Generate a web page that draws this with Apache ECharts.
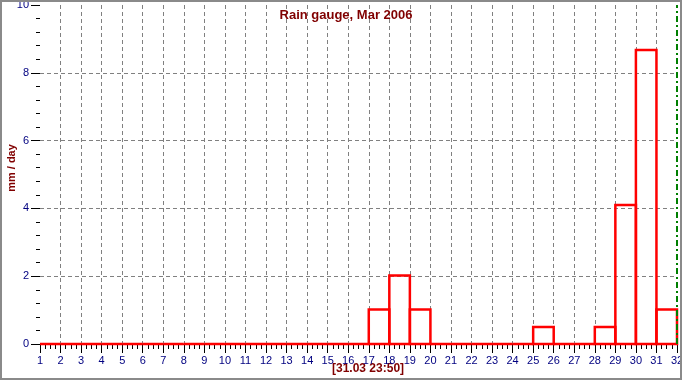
<!DOCTYPE html>
<html><head><meta charset="utf-8">
<script src="https://cdn.jsdelivr.net/npm/echarts@6/dist/echarts.min.js"></script>
<style>html,body{margin:0;padding:0;background:#fff}#c{width:682px;height:380px}</style>
</head><body><div id="c"></div>
<script>
var days = [1,2,3,4,5,6,7,8,9,10,11,12,13,14,15,16,17,18,19,20,21,22,23,24,25,26,27,28,29,30,31];
var rain = [0,0,0,0,0,0,0,0,0,0,0,0,0,0,0,0,1.02,2.02,1.02,0,0,0,0,0,0.5,0,0,0.5,4.1,8.67,1.02];
var titleText = 'Rain gauge, Mar 2006';
var yName = 'mm / day';
var stampText = '[31.03 23:50]';
var nowMarker = 32;

var chart = echarts.init(document.getElementById('c'), null, {renderer:'canvas'});
var font = 'Liberation Sans, Arial, sans-serif';
var data = days.map(function(d,i){return [d, rain[i]];});
chart.setOption({
  animation:false,
  backgroundColor:'#fff',
  title:{text:titleText,left:341,textAlign:'center',top:4,textStyle:{color:'#800000',fontSize:13,fontWeight:'bold',fontFamily:font}},
  grid:{left:40,right:5,top:5,bottom:36,outerBoundsMode:'none',containLabel:false},
  xAxis:{type:'value',min:1,max:32,interval:1,
    axisLine:{show:true,onZero:false,lineStyle:{color:'#000',width:1}},
    axisTick:{show:true,length:9,lineStyle:{color:'#000'}},
    minorTick:{show:true,splitNumber:4,length:5,lineStyle:{color:'#000'}},
    axisLabel:{color:'#000080',fontSize:11,fontFamily:font,margin:11},
    splitLine:{show:true,showMinLine:false,showMaxLine:false,lineStyle:{color:'#808080',type:[4,3],width:1}}
  },
  yAxis:{type:'value',min:0,max:10,interval:2,
    axisLine:{show:false},
    axisTick:{show:true,length:9,lineStyle:{color:'#000'}},
    minorTick:{show:true,splitNumber:5,length:4,lineStyle:{color:'#000'}},
    axisLabel:{color:'#000080',fontSize:11,fontFamily:font,margin:11},
    splitLine:{show:true,showMinLine:false,showMaxLine:false,lineStyle:{color:'#808080',type:[4,3],width:1}}
  },
  graphic:[
    {type:'text',x:12,y:168,rotation:Math.PI/2,style:{text:yName,fill:'#800000',font:'bold 11px '+font,align:'center',verticalAlign:'middle'}},
    {type:'text',left:332,top:363,style:{text:stampText,fill:'#800000',font:'bold 12px '+font}},
    {type:'rect',shape:{x:1,y:1,width:680,height:378},style:{fill:'none',stroke:'#8a8a8a',lineWidth:2},z:100}
  ],
  series:[{
    type:'custom',
    clip:false,
    data:data,
    renderItem:function(params, api){
      var d = api.value(0), v = api.value(1);
      var p0 = api.coord([d, 0]), p1 = api.coord([d+1, v]);
      return {type:'rect',shape:{x:p0[0],y:p1[1],width:p1[0]-p0[0],height:p0[1]-p1[1]},
        style:{fill:'none',stroke:'#ff0000',lineWidth:2.5},z2:10};
    },
    markLine:{silent:true,symbol:'none',label:{show:false},
      lineStyle:{color:'#007f00',type:[6,3,2,3],width:2},
      data:[{xAxis:nowMarker}]}
  }]
});
</script></body></html>
